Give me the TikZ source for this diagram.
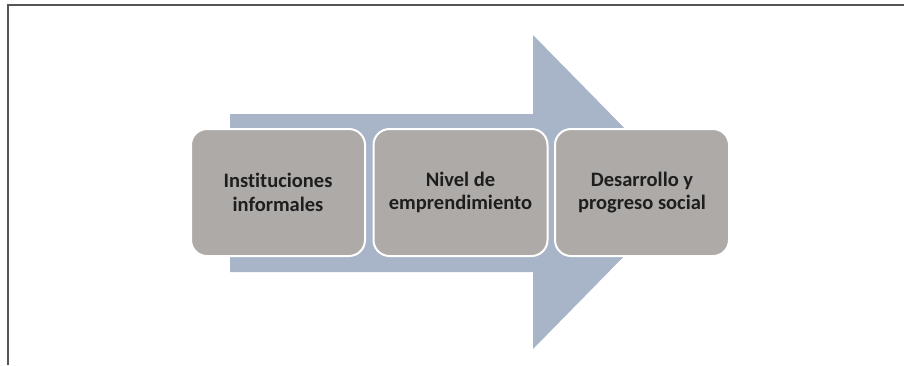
\documentclass[tikz,border=0pt]{standalone}
\usepackage{fontspec}
\setmainfont[Ligatures=NoCommon]{Carlito}
\definecolor{arrowblue}{HTML}{A8B4C8}
\definecolor{boxgray}{HTML}{ADAAA8}
\definecolor{framegray}{HTML}{555555}
\definecolor{txt}{HTML}{1E1E1E}
\begin{document}
\begin{tikzpicture}[x=1pt,y=-1pt,
  stepbox/.style={draw=white,line width=2pt,fill=boxgray,rounded corners=16pt,
    minimum width=174pt,minimum height=127pt,align=center,text=txt,
    font=\fontsize{20.5}{23.5}\selectfont\bfseries,inner sep=0pt},
  framestyle/.style={draw=framegray,line width=1.6pt}]
\useasboundingbox (0,0) rectangle (904,365);
% frame
\coordinate (ftl) at (8,5);
\coordinate (ftr) at (904,5);
\coordinate (fbl) at (8,365);
\draw[framestyle] (ftr) -- (ftl) -- (fbl);
% big arrow
\fill[arrowblue] (230,114) -- (533,114) -- (533,35) -- (687,192) -- (533,349) -- (533,272) -- (230,272) -- cycle;
% boxes
\node[stepbox] (b1) at (278,192.5) {Instituciones\\informales};
\node[stepbox] (b2) at (460.5,192.5) {Nivel de\\emprendimiento};
\node[stepbox] (b3) at (642,192.5) {Desarrollo y\\progreso social};
\end{tikzpicture}
\end{document}
